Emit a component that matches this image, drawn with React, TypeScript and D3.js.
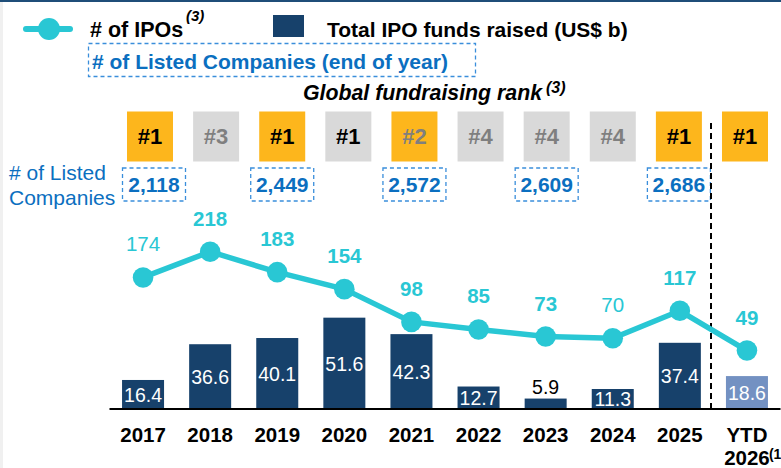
import React from "react";
import * as d3 from "d3";

const categories = ["2017", "2018", "2019", "2020", "2021", "2022", "2023", "2024", "2025", "YTD 2026"];
const ipoCount = [174, 218, 183, 154, 98, 85, 73, 70, 117, 49];
const fundsRaised = [16.4, 36.6, 40.1, 51.6, 42.3, 12.7, 5.9, 11.3, 37.4, 18.6];
const globalRank = [1, 3, 1, 1, 2, 4, 4, 4, 1, 1];
const rankHighlighted = [true, false, true, false, true, false, false, false, true, true];
const listedYears = ["2017", "2019", "2021", "2023", "2025"];
const listedCount = [2118, 2449, 2572, 2609, 2686];

const W = 781;
const H = 468;
const FONT = "'Liberation Sans', Arial, sans-serif";
const CYAN = "#29C7D4";
const NAVY = "#17416B";
const LIGHT_BAR = "#7391C2";
const GOLD = "#FDB61C";
const GREY_BOX = "#D9D9D9";
const BLUE_TXT = "#0B6FC0";
const BLUE_DASH = "#3A8EDB";

// labels that are drawn in regular weight in the original
const plainIpoLabels = new Set([0, 7]);

const App = () => {
  const x = d3
    .scaleBand()
    .domain(categories)
    .range([109.5, 780.5])
    .paddingInner(0.374)
    .paddingOuter(0.187);
  const cx = (c) => x(c) + x.bandwidth() / 2;

  // rank boxes sit on a slightly tighter grid
  const rankX = d3.scalePoint().domain(categories).range([150, 745]);

  const baseline = 409;
  const yBar = d3.scaleLinear().domain([0, 60]).range([baseline, baseline - 106.2]);
  const yLine = d3.scaleLinear().domain([0, 218]).range([379.2, 251.7]);

  const line = d3
    .line()
    .x((d, i) => cx(categories[i]))
    .y((d) => yLine(d));

  const fmt = d3.format(",");
  const fmtB = d3.format(".1f");

  return (
    <div style={{ position: "fixed", left: 0, top: 0 }}>
      <svg width={W} height={H} style={{ display: "block", fontFamily: FONT }}>
        <rect width={W} height={H} fill="#fff" />
        <rect x={0} y={0} width={3} height={H} fill="#F0F0F0" />
        <rect x={0} y={0} width={W} height={2} fill="#1F4E79" />

        {/* legend */}
        <g>
          <line x1={26} x2={70} y1={29} y2={29} stroke={CYAN} strokeWidth={6} strokeLinecap="round" />
          <circle cx={49} cy={29} r={11} fill={CYAN} />
          <text x={90} y={37} fontSize={21.5} fontWeight="bold" fill="#000">
            # of IPOs
          </text>
          <text x={186} y={21} fontSize={15} fontWeight="bold" fontStyle="italic" fill="#000">
            (3)
          </text>
          <rect x={273} y={15} width={31} height={22} fill={NAVY} />
          <text x={327} y={37} fontSize={21} fontWeight="bold" fill="#000">
            Total IPO funds raised (US$ b)
          </text>
          <rect x={88.5} y={43.5} width={387} height={33} fill="none" stroke={BLUE_DASH} strokeWidth={1.3} strokeDasharray="4 3" />
          <text x={92} y={69} fontSize={21} fontWeight="bold" fill={BLUE_TXT}>
            # of Listed Companies (end of year)
          </text>
          <text x={542} y={100} fontSize={21.3} fontWeight="bold" fontStyle="italic" textAnchor="end" fill="#000">
            Global fundraising rank
          </text>
          <text x={546} y={93} fontSize={16} fontWeight="bold" fontStyle="italic" fill="#000">
            (3)
          </text>
        </g>

        {/* rank boxes */}
        {categories.map((c, i) => (
          <g key={"r" + c}>
            <rect
              x={rankX(c) - 23}
              y={111.5}
              width={46}
              height={50}
              fill={rankHighlighted[i] ? GOLD : GREY_BOX}
            />
            <text
              x={rankX(c)}
              y={144}
              textAnchor="middle"
              fontSize={22}
              fontWeight="bold"
              fill={globalRank[i] === 1 ? "#000" : "#7F7F7F"}
            >
              #{globalRank[i]}
            </text>
          </g>
        ))}

        {/* listed companies */}
        <text x={9} y={180} fontSize={21} fill={BLUE_TXT}>
          # of Listed
        </text>
        <text x={9} y={205} fontSize={21} fill={BLUE_TXT}>
          Companies
        </text>
        {listedYears.map((c, i) => {
          const mx = rankX(c) + (i === 0 ? 4 : 0);
          return (
            <g key={"l" + c}>
              <rect
                x={mx - 31.5}
                y={168}
                width={63}
                height={33}
                fill="none"
                stroke={BLUE_DASH}
                strokeWidth={1.3}
                strokeDasharray="4 3"
              />
              <text x={mx} y={192} textAnchor="middle" fontSize={21} fontWeight="bold" fill={BLUE_TXT}>
                {fmt(listedCount[i])}
              </text>
            </g>
          );
        })}

        {/* bars */}
        {categories.map((c, i) => {
          const v = fundsRaised[i];
          const top = yBar(v);
          const h = baseline - top;
          const inside = h > 20;
          return (
            <g key={"b" + c}>
              <rect
                x={x(c)}
                y={top}
                width={x.bandwidth()}
                height={h}
                fill={i === categories.length - 1 ? LIGHT_BAR : NAVY}
              />
              <text
                x={cx(c)}
                y={inside ? top + h / 2 + 7.5 : top - 5}
                textAnchor="middle"
                fontSize={19.5}
                fill={inside ? "#fff" : "#000"}
              >
                {fmtB(v)}
              </text>
            </g>
          );
        })}

        {/* divider before YTD */}
        <line x1={711} x2={711} y1={123} y2={baseline} stroke="#000" strokeWidth={2} strokeDasharray="6 4" />

        {/* baseline */}
        <line x1={x.range()[0]} x2={x.range()[1]} y1={baseline} y2={baseline} stroke="#000" strokeWidth={2} />

        {/* IPO count line */}
        <path d={line(ipoCount)} fill="none" stroke={CYAN} strokeWidth={5.5} strokeLinejoin="round" />
        {ipoCount.map((v, i) => (
          <g key={"p" + i}>
            <circle cx={cx(categories[i])} cy={yLine(v)} r={10.3} fill={CYAN} />
            <text
              x={cx(categories[i])}
              y={yLine(v) - 26}
              textAnchor="middle"
              fontSize={20.5}
              fontWeight={plainIpoLabels.has(i) ? "normal" : "bold"}
              fill={CYAN}
            >
              {v}
            </text>
          </g>
        ))}

        {/* category labels */}
        {categories.map((c) => {
          const parts = c.split(" ");
          return (
            <g key={"x" + c}>
              {parts.map((p, j) => (
                <text
                  key={p}
                  x={cx(c)}
                  y={441.5 + j * 23.5}
                  textAnchor="middle"
                  fontSize={20.5}
                  fontWeight="bold"
                  fill="#000"
                >
                  {p}
                </text>
              ))}
              {parts.length > 1 && (
                <text x={cx(c) + 22} y={459} fontSize={14} fontWeight="bold" fill="#000">
                  (1)
                </text>
              )}
            </g>
          );
        })}
      </svg>
    </div>
  );
};

export default App;
